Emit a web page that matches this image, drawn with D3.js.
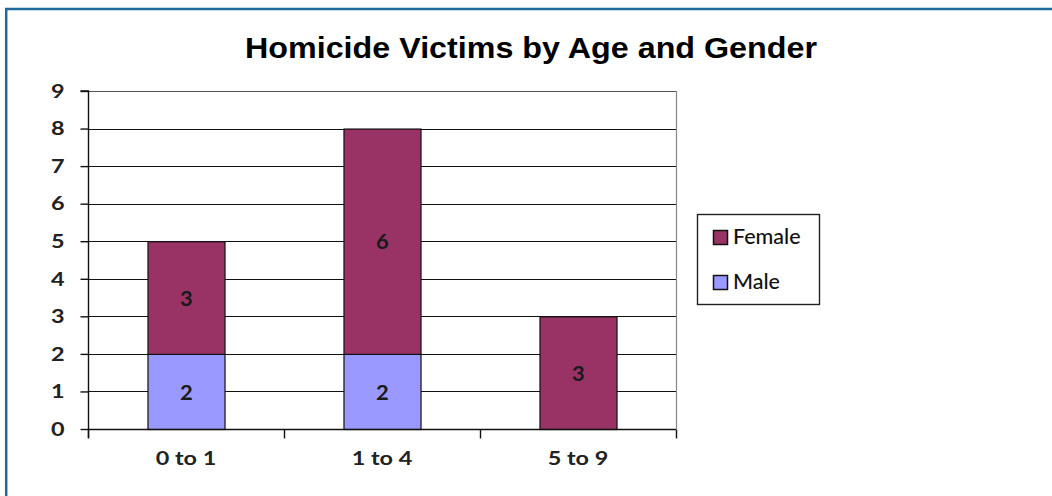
<!DOCTYPE html>
<html><head><meta charset="utf-8">
<script src="https://cdn.jsdelivr.net/npm/d3@7"></script>
<style>
html,body{margin:0;padding:0;background:#fff;}
svg{display:block;}
</style></head>
<body>
<svg id="chart" width="1052" height="496"></svg>
<script>
const categories = ["0 to 1", "1 to 4", "5 to 9"];
const maleValues = [2, 2, 0];
const femaleValues = [3, 6, 3];
const seriesNames = ["Female", "Male"];
const yTicks = [0,1,2,3,4,5,6,7,8,9];
const title = "Homicide Victims by Age and Gender";

const colors = {Male: "#9999ff", Female: "#993366"};
const svg = d3.select("#chart");
const W = 1052, H = 496;
svg.append("rect").attr("width", W).attr("height", H).attr("fill", "#fff");
// frame (top and left edges visible)
svg.append("line").attr("x1", 5).attr("x2", W).attr("y1", 9).attr("y2", 9).attr("stroke", "#1f6a9a").attr("stroke-width", 2.5);
svg.append("line").attr("x1", 6.2).attr("x2", 6.2).attr("y1", 8).attr("y2", H).attr("stroke", "#1f6a9a").attr("stroke-width", 2.5);

const m = {left: 88, right: 676, top: 91, bottom: 429};
const x = d3.scaleBand().domain(categories).range([m.left, m.right]).paddingInner(0.607).paddingOuter(0.3035);
const y = d3.scaleLinear().domain([0, 9]).range([m.bottom, m.top]);

const fontLabel = "Lato, 'Open Sans', sans-serif";
const SX = 1.2;
function stretch(sel, sx) {
  sel.each(function() {
    const t = d3.select(this);
    const xv = +(t.attr("x") || 0);
    t.attr("x", xv / sx).attr("transform", `scale(${sx},1)`);
  });
}

// gridlines
svg.append("g").selectAll("line").data(yTicks.filter(d => d > 0)).join("line")
  .attr("x1", m.left).attr("x2", m.right)
  .attr("y1", d => Math.round(y(d)) + 0.5).attr("y2", d => Math.round(y(d)) + 0.5)
  .attr("stroke", d => d === 9 ? "#555" : "#111").attr("stroke-width", 1.2);
// plot right border
svg.append("line").attr("x1", m.right + 0.5).attr("x2", m.right + 0.5).attr("y1", m.top).attr("y2", m.bottom)
  .attr("stroke", "#888").attr("stroke-width", 1.2);

// stacked data
const rows = categories.map((c, i) => ({cat: c, Male: maleValues[i], Female: femaleValues[i]}));
const stack = d3.stack().keys(["Male", "Female"])(rows);
const gBars = svg.append("g");
const gLabels = svg.append("g");
stack.forEach(s => {
  s.forEach(d => {
    const v = d[1] - d[0];
    if (v <= 0) return;
    gBars.append("rect")
      .attr("x", x(d.data.cat) + 0.5)
      .attr("y", y(d[1]) + 0.5)
      .attr("width", x.bandwidth())
      .attr("height", y(d[0]) - y(d[1]))
      .attr("fill", colors[s.key]).attr("stroke", "#111").attr("stroke-width", 1.2);
    gLabels.append("text")
      .attr("x", x(d.data.cat) + x.bandwidth() / 2 + 0.5)
      .attr("y", (y(d[0]) + y(d[1])) / 2 + 1)
      .attr("dy", "0.36em")
      .attr("text-anchor", "middle")
      .attr("font-family", fontLabel).attr("font-size", 20).attr("font-weight", 700)
      .attr("fill", "#1a1a1a").text(v);
  });
});
stretch(gLabels.selectAll("text"), 1.1);

// y axis
const yAxis = d3.axisLeft(y).tickValues(yTicks).tickSize(8).tickPadding(16).tickFormat(d3.format("d"));
const gy = svg.append("g").attr("transform", `translate(${m.left + 0.5},0)`).call(yAxis);
gy.select(".domain").attr("stroke", "#111").attr("stroke-width", 1.4).attr("d", `M-8,${y(9)}H0V${m.bottom + 9}`);
gy.selectAll(".tick line").attr("stroke", "#111").attr("stroke-width", 1.4);
gy.selectAll(".tick text").attr("font-family", fontLabel).attr("font-size", 19.5).attr("font-weight", 700).attr("fill", "#222");
stretch(gy.selectAll(".tick text"), SX);

// x axis
const xAxis = d3.axisBottom(x).tickSize(0).tickPadding(22);
const gx = svg.append("g").attr("transform", `translate(0,${m.bottom + 0.5})`).call(xAxis);
gx.select(".domain").attr("stroke", "#111").attr("stroke-width", 1.4).attr("d", `M${m.left},0H${m.right}`);
gx.selectAll(".tick text").attr("font-family", fontLabel).attr("font-size", 19.5).attr("font-weight", 700).attr("fill", "#222");
stretch(gx.selectAll(".tick text"), SX);
// boundary ticks
const bounds = categories.map(c => x(c) - x.step() * x.paddingInner() / 2).concat([m.right]);
gx.append("g").selectAll("line").data(bounds).join("line")
  .attr("x1", d => Math.round(d) + 0.5).attr("x2", d => Math.round(d) + 0.5).attr("y1", 0).attr("y2", 9)
  .attr("stroke", "#111").attr("stroke-width", 1.4);

// title
svg.append("text").attr("x", 245).attr("y", 58)
  .attr("font-family", "'Liberation Sans', Arial, sans-serif").attr("font-weight", 700).attr("font-size", 29)
  .attr("textLength", 572).attr("lengthAdjust", "spacingAndGlyphs")
  .attr("fill", "#000").text(title);

// legend
const lg = svg.append("g");
lg.append("rect").attr("x", 697.5).attr("y", 214.5).attr("width", 122).attr("height", 90)
  .attr("fill", "#fff").attr("stroke", "#222").attr("stroke-width", 1.4);
seriesNames.forEach((n, i) => {
  const yy = 230 + i * 45;
  lg.append("rect").attr("x", 713.5).attr("y", yy + 0.5).attr("width", 14).attr("height", 14)
    .attr("fill", colors[n]).attr("stroke", "#111").attr("stroke-width", 1.5);
  lg.append("text").attr("x", 733).attr("y", yy + 14)
    .attr("font-family", fontLabel).attr("font-size", 21.5).attr("font-weight", 500).attr("fill", "#111").text(n);
});
</script>
</body></html>
